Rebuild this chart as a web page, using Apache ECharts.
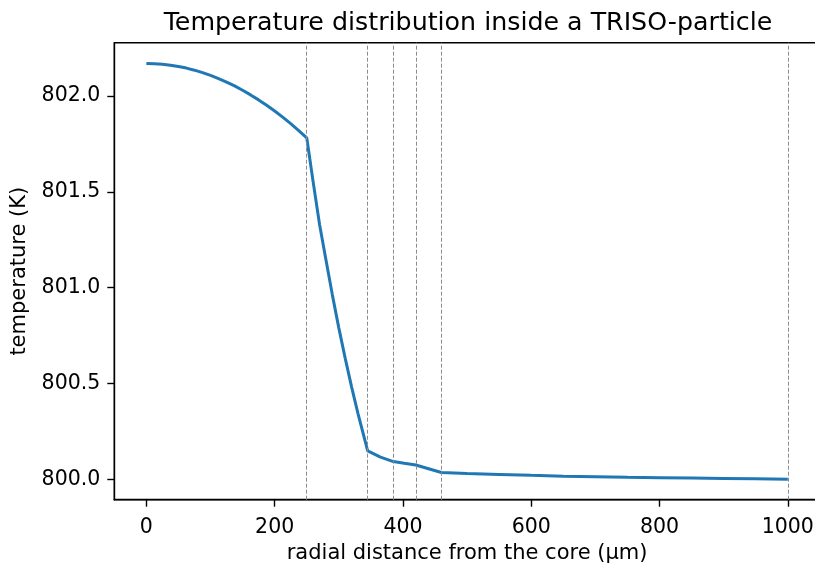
<!DOCTYPE html>
<html>
<head>
<meta charset="utf-8">
<script src="https://cdn.jsdelivr.net/npm/echarts@6/dist/echarts.min.js"></script>
<style>
html,body{margin:0;padding:0;background:#fff;}
#chart{width:815px;height:564px;}
</style>
</head>
<body>
<div id="chart"></div>
<script>
// Radial positions (µm) and temperatures (K)
const radius = [0, 12.5, 25, 37.5, 50, 62.5, 75, 87.5, 100, 112.5, 125, 137.5, 150, 162.5, 175, 187.5, 200, 212.5, 225, 237.5, 250,
  260, 270, 280, 290, 300, 310, 320, 330, 345,
  365, 385, 402, 420, 460,
  500, 550, 600, 650, 700, 750, 800, 850, 900, 950, 1000];
const temperature = [802.170, 802.169, 802.166, 802.161, 802.154, 802.146, 802.135, 802.122, 802.108, 802.091, 802.073, 802.053, 802.030, 802.006, 801.980, 801.952, 801.922, 801.890, 801.856, 801.820, 801.782,
  801.552, 801.330, 801.144, 800.961, 800.790, 800.631, 800.481, 800.341, 800.148,
  800.115, 800.092, 800.083, 800.074, 800.035,
  800.030, 800.025, 800.020, 800.016, 800.013, 800.010, 800.008, 800.006, 800.004, 800.002, 800.000];
// Layer boundaries (µm): kernel, buffer, IPyC, SiC, OPyC, matrix edge
const boundaries = [250, 345, 385, 420, 460, 1000];
const xTicks = [0, 200, 400, 600, 800, 1000];
const yTicks = [800.0, 800.5, 801.0, 801.5, 802.0];

const titleText = 'Temperature distribution inside a TRISO-particle';
const xLabel = 'radial distance from the core (µm)';
const yLabel = 'temperature (K)';

const FONT = 'DejaVu Sans';
const chart = echarts.init(document.getElementById('chart'), null, {renderer: 'canvas'});
chart.setOption({
  animation: false,
  backgroundColor: '#ffffff',
  title: {
    text: titleText,
    left: 463, top: 6, textAlign: 'center',
    textStyle: {fontFamily: FONT, fontSize: 25.3, fontWeight: 'normal', color: '#000'}
  },
  grid: {
    left: 114.3, top: 42.7, width: 705.6, height: 457,
    outerBoundsMode: 'none', containLabel: false,
    show: true, borderColor: '#000', borderWidth: 1.4, backgroundColor: 'transparent'
  },
  xAxis: {
    type: 'value', min: -50, max: 1050,
    name: xLabel, nameLocation: 'middle', nameGap: 42,
    nameTextStyle: {fontFamily: FONT, fontSize: 21, color: '#000'},
    axisLine: {show: true, onZero: false, lineStyle: {color: '#000', width: 1.4}},
    axisTick: {show: true, customValues: xTicks, length: 7, lineStyle: {color: '#000', width: 1.4}},
    axisLabel: {customValues: xTicks, margin: 17, fontFamily: FONT, fontSize: 20.5, color: '#000',
      formatter: v => String(Math.round(v))},
    splitLine: {show: false}
  },
  yAxis: {
    type: 'value', min: 799.893, max: 802.2785,
    name: yLabel, nameLocation: 'middle', nameGap: 84, nameRotate: 90,
    nameTextStyle: {fontFamily: FONT, fontSize: 21, color: '#000'},
    axisLine: {show: true, onZero: false, lineStyle: {color: '#000', width: 1.4}},
    axisTick: {show: true, customValues: yTicks, length: 7, lineStyle: {color: '#000', width: 1.4}},
    axisLabel: {customValues: yTicks, margin: 14, fontFamily: FONT, fontSize: 20.5, color: '#000',
      formatter: v => Number(v).toFixed(1)},
    splitLine: {show: false}
  },
  series: [{
    type: 'line',
    data: radius.map((r, i) => [r, temperature[i]]),
    showSymbol: false,
    lineStyle: {color: '#1f77b4', width: 3},
    z: 3,
    markLine: {
      silent: true,
      symbol: ['none', 'none'],
      label: {show: false},
      lineStyle: {color: '#8c8c8c', type: [4, 2], width: 1},
      data: boundaries.map(b => ({xAxis: b}))
    }
  }]
});
</script>
</body>
</html>
